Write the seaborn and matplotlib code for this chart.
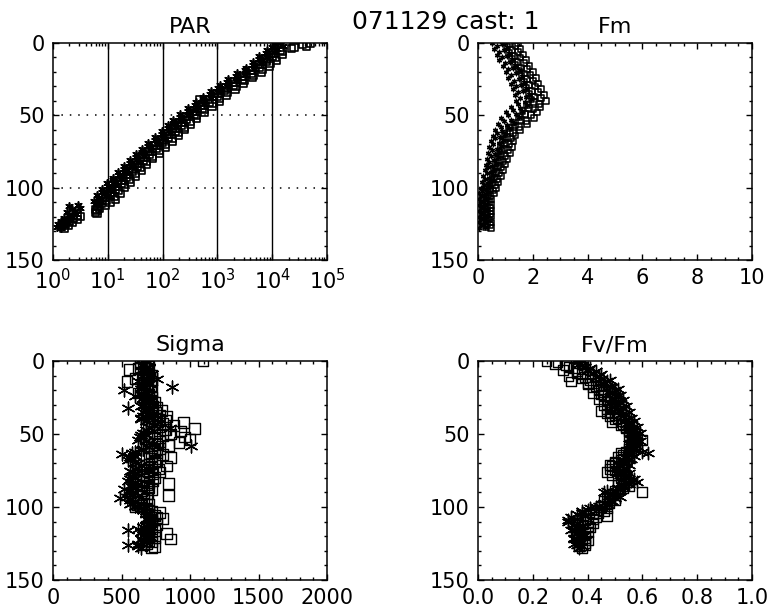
import matplotlib
matplotlib.use("Agg")
import matplotlib.pyplot as plt
import seaborn as sns
import numpy as np
import pandas as pd
from matplotlib.ticker import (MultipleLocator, FixedLocator, NullFormatter,
                               LogLocator, FixedFormatter, FormatStrFormatter)

# ---------------- data ----------------
depth = [0, 1, 2, 3, 4, 5, 6, 7, 8, 9, 10, 11, 12, 13, 14, 15, 16, 17, 18, 19,
         20, 21, 22, 23, 24, 25, 26, 27, 28, 29, 30, 31, 32, 33, 34, 35, 36, 37, 38, 39,
         40, 41, 42, 43, 44, 45, 46, 47, 48, 49, 50, 51, 52, 53, 54, 55, 56, 57, 58, 59,
         60, 61, 62, 63, 64, 65, 66, 67, 68, 69, 70, 71, 72, 73, 74, 75, 76, 77, 78, 79,
         80, 81, 82, 83, 84, 85, 86, 87, 88, 89, 90, 91, 92, 93, 94, 95, 96, 97, 98, 99,
         100, 101, 102, 103, 104, 105, 106, 107, 108, 109, 110, 111, 112, 113, 114, 115,
         116, 117, 118, 119, 120, 121, 122, 123, 124, 125, 126, 127, 128]

# PAR as log10 values
par_sq_log10 = [4.70, 4.55, 4.62, 4.40, 4.35, 4.15, 4.19, 4.02, 4.18, 4.00, 4.06, 3.90,
                4.08, 3.90, 3.96, 3.79, 3.95, 3.77, 3.82, 3.64, 3.80, 3.61, 3.66, 3.48,
                3.64, 3.45, 3.50, 3.32, 3.48, 3.29, 3.34, 3.16, 3.32, 3.13, 3.18, 3.01,
                3.17, 2.99, 3.04, 2.68, 3.04, 2.86, 2.91, 2.74, 2.90, 2.72, 2.77, 2.60,
                2.76, 2.57, 2.62, 2.45, 2.62, 2.44, 2.50, 2.34, 2.51, 2.34, 2.40, 2.23,
                2.40, 2.23, 2.29, 2.12, 2.29, 2.11, 2.17, 2.00, 2.17, 1.99, 2.05, 1.88,
                2.05, 1.88, 1.94, 1.77, 1.94, 1.76, 1.82, 1.65, 1.82, 1.65, 1.71, 1.54,
                1.71, 1.54, 1.60, 1.44, 1.61, 1.44, 1.50, 1.34, 1.51, 1.34, 1.40, 1.24,
                1.41, 1.24, 1.30, 1.14, 1.31, 1.14, 1.20, 1.04, 1.22, 1.05, 1.12, 0.96,
                1.14, 0.97, 1.04, 0.89, 0.95, 0.82, 0.85, 0.78, 0.80, 0.78, 0.80, 0.45,
                0.50, 0.38, 0.45, 0.30, 0.35, 0.22, 0.28, 0.15, 0.20]
par_st_log10 = [4.15, 4.05, 4.20, 4.00, 4.09, 3.90, 4.03, 3.88, 3.92, 3.75, 3.90, 3.76,
                3.82, 3.65, 3.80, 3.65, 3.69, 3.52, 3.66, 3.50, 3.54, 3.36, 3.50, 3.34,
                3.38, 3.20, 3.34, 3.18, 3.22, 3.04, 3.18, 3.02, 3.06, 2.88, 3.02, 2.87,
                2.91, 2.74, 2.88, 2.73, 2.78, 2.61, 2.75, 2.60, 2.64, 2.47, 2.61, 2.46,
                2.50, 2.32, 2.46, 2.31, 2.36, 2.19, 2.34, 2.20, 2.25, 2.09, 2.24, 2.09,
                2.14, 1.98, 2.13, 1.98, 2.03, 1.86, 2.01, 1.86, 1.91, 1.74, 1.89, 1.74,
                1.79, 1.63, 1.78, 1.63, 1.68, 1.51, 1.66, 1.51, 1.56, 1.40, 1.55, 1.40,
                1.45, 1.29, 1.44, 1.30, 1.35, 1.19, 1.34, 1.20, 1.25, 1.09, 1.24, 1.10,
                1.15, 0.99, 1.14, 1.00, 1.05, 0.89, 1.04, 0.90, 0.96, 0.80, 0.96, 0.82,
                0.88, 0.75, 0.88, 0.80, 0.45, 0.30, 0.50, 0.35, 0.40, 0.25, 0.42, 0.30,
                0.35, 0.20, 0.30, 0.15, 0.25, 0.10, 0.20, 0.08, 0.15]

fm_sq = [1.46, 1.15, 1.37, 1.06, 1.55, 1.24, 1.46, 1.14, 1.64, 1.33, 1.55, 1.24, 1.75,
         1.44, 1.67, 1.36, 1.88, 1.57, 1.80, 1.49, 2.02, 1.70, 1.92, 1.59, 2.11, 1.78,
         2.00, 1.68, 2.19, 1.86, 2.08, 1.76, 2.29, 1.96, 2.20, 1.85, 2.40, 2.06, 2.30,
         1.95, 2.47, 2.05, 2.22, 1.79, 2.28, 1.86, 2.03, 1.62, 2.15, 1.73, 1.94, 1.49,
         2.04, 1.57, 1.74, 1.30, 1.78, 1.37, 1.50, 1.12, 1.53, 1.16, 1.27, 0.97, 1.37,
         1.06, 1.21, 0.90, 1.30, 1.00, 1.15, 0.84, 1.24, 0.94, 1.09, 0.78, 1.17, 0.86,
         1.00, 0.72, 1.08, 0.80, 0.93, 0.65, 0.99, 0.73, 0.85, 0.59, 0.91, 0.66, 0.77,
         0.53, 0.83, 0.59, 0.70, 0.47, 0.75, 0.53, 0.62, 0.41, 0.66, 0.44, 0.54, 0.33,
         0.58, 0.38, 0.46, 0.28, 0.48, 0.33, 0.42, 0.27, 0.48, 0.34, 0.43, 0.28, 0.47,
         0.33, 0.44, 0.29, 0.48, 0.35, 0.42, 0.27, 0.47, 0.33, 0.44, 0.30, 0.48]
fm_st = [0.51, 0.86, 0.69, 1.05, 0.60, 0.95, 0.78, 1.14, 0.69, 1.05, 0.87, 1.24, 0.78,
         1.15, 0.99, 1.36, 0.90, 1.28, 1.11, 1.49, 1.02, 1.40, 1.22, 1.59, 1.11, 1.48,
         1.31, 1.68, 1.20, 1.57, 1.39, 1.76, 1.28, 1.66, 1.47, 1.86, 1.36, 1.74, 1.55,
         1.95, 1.39, 1.72, 1.46, 1.79, 1.20, 1.54, 1.27, 1.62, 1.02, 1.38, 1.11, 1.49,
         0.85, 1.22, 0.96, 1.30, 0.73, 1.06, 0.83, 1.12, 0.62, 0.89, 0.69, 0.97, 0.53,
         0.81, 0.63, 0.91, 0.47, 0.75, 0.56, 0.85, 0.41, 0.69, 0.50, 0.78, 0.36, 0.63,
         0.46, 0.72, 0.32, 0.57, 0.41, 0.65, 0.28, 0.52, 0.36, 0.59, 0.24, 0.46, 0.32,
         0.53, 0.20, 0.41, 0.27, 0.47, 0.16, 0.35, 0.22, 0.41, 0.10, 0.28, 0.15, 0.33,
         0.05, 0.23, 0.12, 0.28, 0.05, 0.20, 0.11, 0.27, 0.03, 0.20, 0.10, 0.26, 0.02,
         0.19, 0.12, 0.27, 0.03, 0.21, 0.10, 0.25, 0.02, 0.18, 0.11, 0.26, 0.03]

sig_sq = [1095, 660, 640, 690, 700, 620, 560, 680, 660, 700,
          720, 650, 600, 690, 540, 670, 690, 710, 650, 680,
          720, 660, 620, 700, 700, 720, 680, 710, 740, 690,
          700, 730, 760, 720, 795, 750, 730, 780, 830, 760,
          770, 820, 950, 800, 880, 780, 1035, 820, 930, 760,
          860, 800, 960, 740, 1000, 780, 920, 760, 845, 720,
          780, 740, 740, 760, 800, 720, 855, 700, 760, 740,
          720, 700, 830, 720, 770, 690, 780, 730, 700, 680,
          740, 660, 730, 700, 845, 680, 690, 700, 720, 650,
          660, 690, 845, 640, 680, 660, 640, 620, 700, 650,
          600, 680, 700, 720, 780, 700, 740, 760, 800, 720,
          720, 700, 760, 680, 700, 720, 740, 700, 830, 720,
          700, 740, 855, 700, 720, 680, 660, 740, 720]
sig_st = [680, 700, 660, 640, 700, 680, 640, 660, 690, 720,
          650, 700, 760, 680, 620, 700, 700, 660, 865, 640,
          515, 680, 640, 700, 600, 660, 680, 720, 700, 680,
          660, 640, 550, 700, 680, 660, 720, 700, 660, 640,
          640, 680, 700, 760, 740, 700, 855, 680, 740, 660,
          680, 640, 635, 660, 620, 680, 700, 720, 1010, 700,
          660, 640, 600, 580, 500, 600, 560, 580, 550, 600,
          620, 640, 700, 620, 600, 560, 580, 600, 640, 580,
          600, 560, 550, 600, 620, 580, 580, 600, 520, 560,
          600, 580, 560, 540, 490, 560, 600, 580, 565, 600,
          620, 640, 660, 680, 700, 680, 720, 700, 680, 700,
          740, 700, 700, 680, 660, 620, 550, 640, 680, 660,
          700, 680, 640, 660, 680, 620, 550, 620, 640]

fvfm_sq = [0.25, 0.29, 0.28, 0.32, 0.33, 0.35, 0.31, 0.36, 0.36, 0.38,
           0.33, 0.39, 0.38, 0.41, 0.34, 0.40, 0.40, 0.43, 0.42, 0.45,
           0.44, 0.46, 0.42, 0.45, 0.46, 0.48, 0.44, 0.47, 0.48, 0.50,
           0.46, 0.48, 0.49, 0.47, 0.45, 0.48, 0.47, 0.50, 0.48, 0.51,
           0.50, 0.52, 0.49, 0.53, 0.52, 0.54, 0.54, 0.56, 0.55, 0.57,
           0.56, 0.55, 0.57, 0.58, 0.60, 0.57, 0.56, 0.58, 0.57, 0.55,
           0.55, 0.56, 0.54, 0.52, 0.53, 0.55, 0.51, 0.53, 0.52, 0.50,
           0.50, 0.48, 0.49, 0.51, 0.48, 0.50, 0.47, 0.52, 0.49, 0.53,
           0.52, 0.54, 0.51, 0.55, 0.53, 0.51, 0.55, 0.53, 0.52, 0.50,
           0.60, 0.49, 0.50, 0.47, 0.48, 0.50, 0.46, 0.48, 0.47, 0.45,
           0.45, 0.47, 0.43, 0.46, 0.44, 0.42, 0.47, 0.43, 0.42, 0.39,
           0.40, 0.42, 0.38, 0.40, 0.41, 0.37, 0.37, 0.40, 0.39, 0.36,
           0.36, 0.39, 0.38, 0.40, 0.37, 0.39, 0.39, 0.37, 0.38]
fvfm_st = [0.38, 0.36, 0.37, 0.38, 0.39, 0.41, 0.40, 0.43, 0.42, 0.45,
           0.44, 0.43, 0.45, 0.48, 0.47, 0.45, 0.46, 0.48, 0.49, 0.51,
           0.50, 0.49, 0.48, 0.52, 0.51, 0.49, 0.50, 0.53, 0.52, 0.50,
           0.51, 0.54, 0.53, 0.51, 0.52, 0.55, 0.54, 0.52, 0.53, 0.56,
           0.54, 0.57, 0.55, 0.54, 0.55, 0.58, 0.56, 0.55, 0.57, 0.59,
           0.56, 0.58, 0.58, 0.56, 0.57, 0.59, 0.56, 0.55, 0.58, 0.57,
           0.57, 0.55, 0.60, 0.62, 0.55, 0.57, 0.54, 0.56, 0.55, 0.53,
           0.53, 0.55, 0.52, 0.54, 0.54, 0.52, 0.53, 0.55, 0.52, 0.54,
           0.54, 0.57, 0.56, 0.58, 0.55, 0.53, 0.53, 0.51, 0.51, 0.47,
           0.46, 0.49, 0.48, 0.52, 0.50, 0.48, 0.49, 0.46, 0.47, 0.44,
           0.43, 0.41, 0.40, 0.38, 0.38, 0.36, 0.39, 0.34, 0.36, 0.33,
           0.33, 0.36, 0.35, 0.38, 0.37, 0.35, 0.34, 0.37, 0.36, 0.39,
           0.38, 0.35, 0.35, 0.37, 0.37, 0.35, 0.36, 0.38, 0.37]

main_title = "071129 cast: 1"
panel_titles = ["PAR", "Fm", "Sigma", "Fv/Fm"]
y_ticks = [0, 50, 100, 150]
par_ticks = [1, 10, 100, 1000, 10000, 100000]
par_labels = [r"$10^{0}$", r"$10^{1}$", r"$10^{2}$", r"$10^{3}$", r"$10^{4}$", r"$10^{5}$"]

# ---------------- style ----------------
sns.set_style("white")
plt.rcParams["font.family"] = ["DejaVu Sans"]
plt.rcParams["font.size"] = 15
for k in ["text.color", "axes.labelcolor", "xtick.color", "ytick.color",
          "axes.edgecolor"]:
    plt.rcParams[k] = "black"
plt.rcParams["axes.linewidth"] = 1.1
plt.rcParams["mathtext.default"] = "regular"

W, H = 768, 615
fig = plt.figure(figsize=(W / 100, H / 100), dpi=100)

def rect(l, t, r, b):
    return [l / W, 1 - b / H, (r - l) / W, (b - t) / H]

ax_par = fig.add_axes(rect(53, 43, 327, 260))
ax_fm = fig.add_axes(rect(478, 43, 752, 260))
ax_sig = fig.add_axes(rect(53, 361, 327, 580))
ax_fv = fig.add_axes(rect(478, 361, 752, 580))

star = (6, 2, 0)

def draw(ax, sq, st, s_sq, s_st, lw_sq=0.9, lw_st=0.9):
    df = pd.DataFrame({"depth": depth, "sq": sq, "st": st})
    sns.scatterplot(data=df, x="sq", y="depth", ax=ax, marker="s", s=s_sq,
                    facecolor="none", edgecolor="black", linewidth=lw_sq, legend=False)
    sns.scatterplot(data=df, x="st", y="depth", ax=ax, marker=star, s=s_st,
                    color="black", linewidth=lw_st, legend=False)

par_sq = np.power(10.0, par_sq_log10)
par_st = np.power(10.0, par_st_log10)
draw(ax_par, par_sq, par_st, 28, 26, lw_sq=1.2, lw_st=1.2)
draw(ax_fm, fm_sq, fm_st, 17, 10, lw_sq=1.1, lw_st=1.0)
draw(ax_sig, sig_sq, sig_st, 60, 85, lw_sq=1.0, lw_st=1.0)
draw(ax_fv, fvfm_sq, fvfm_st, 50, 80, lw_sq=1.0, lw_st=1.0)

for ax, t in zip([ax_par, ax_fm, ax_sig, ax_fv], panel_titles):
    ax.set_ylim(150, 0)
    ax.yaxis.set_major_locator(FixedLocator(y_ticks))
    ax.yaxis.set_minor_locator(MultipleLocator(10))
    ax.set_xlabel("")
    ax.set_ylabel("")
    ax.set_title(t, fontsize=16, pad=7)
    ax.tick_params(which="both", direction="in", top=True, right=True,
                   bottom=True, left=True, color="black", width=1.0)
    ax.tick_params(which="major", length=4.5, labelsize=15, pad=6)
    ax.tick_params(which="minor", length=2.3)
    for sp in ax.spines.values():
        sp.set_visible(True)
        sp.set_color("black")

# PAR axis
ax_par.set_xscale("log")
ax_par.set_xlim(1, 1e5)
ax_par.xaxis.set_major_locator(FixedLocator(par_ticks))
ax_par.xaxis.set_major_formatter(FixedFormatter(par_labels))
ax_par.xaxis.set_minor_locator(LogLocator(base=10, subs=range(2, 10), numticks=20))
ax_par.xaxis.set_minor_formatter(NullFormatter())
for xv in par_ticks[1:-1]:
    ax_par.axvline(xv, color="black", lw=1.0, zorder=0)
for yv in [50, 100]:
    ax_par.axhline(yv, color="black", lw=1.1, ls=(0, (1, 4.5)), zorder=0)

# Fm axis
ax_fm.set_xlim(0, 10)
ax_fm.xaxis.set_major_locator(MultipleLocator(2))
ax_fm.xaxis.set_minor_locator(MultipleLocator(0.5))
ax_fm.xaxis.set_major_formatter(FormatStrFormatter("%d"))

# Sigma axis
ax_sig.set_xlim(0, 2000)
ax_sig.xaxis.set_major_locator(MultipleLocator(500))
ax_sig.xaxis.set_minor_locator(MultipleLocator(100))

# Fv/Fm axis
ax_fv.set_xlim(0, 1)
ax_fv.xaxis.set_major_locator(MultipleLocator(0.2))
ax_fv.xaxis.set_minor_locator(MultipleLocator(0.05))
ax_fv.xaxis.set_major_formatter(FormatStrFormatter("%.1f"))

fig.text(446 / W, 1 - 22 / H, main_title, ha="center", va="center", fontsize=18)

fig.savefig("out.png", dpi=100)
